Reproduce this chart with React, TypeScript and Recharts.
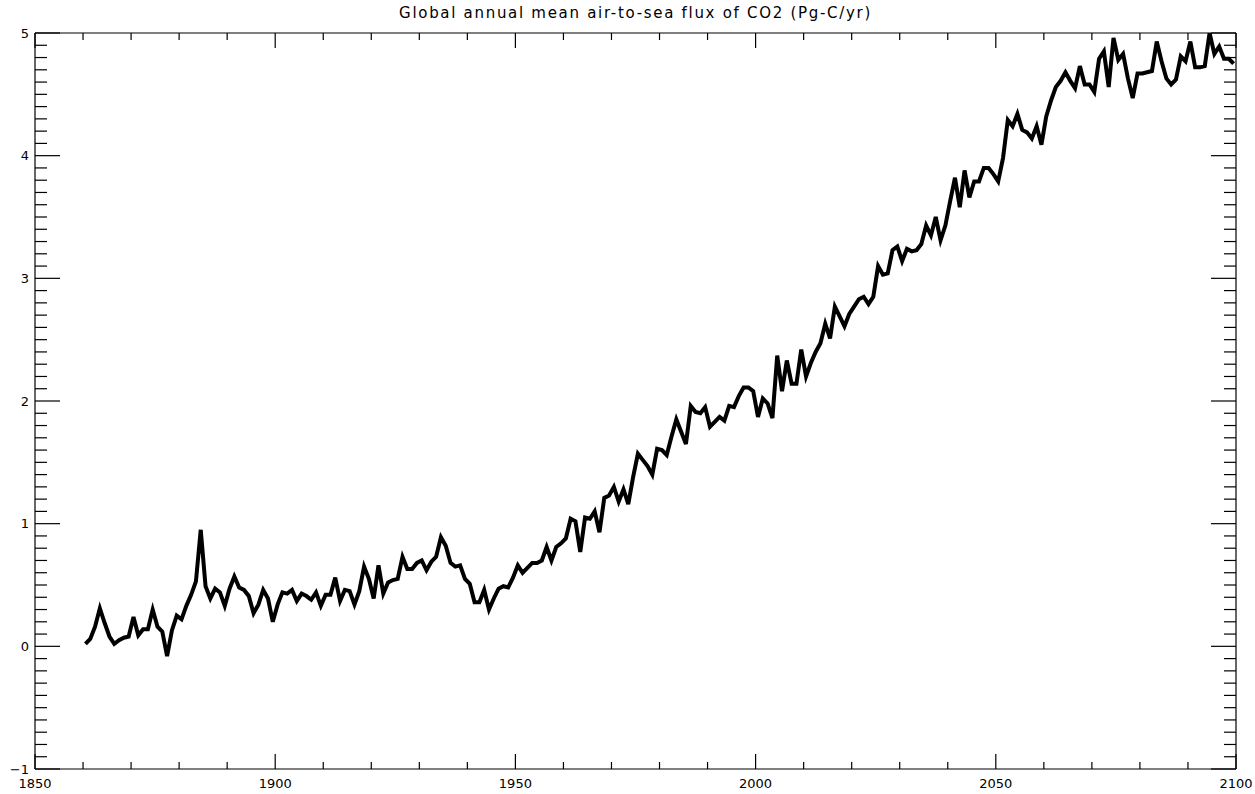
import React from 'react';
import { LineChart, Line, XAxis, YAxis, ReferenceLine } from 'recharts';

// global annual mean air-to-sea CO2 flux, Pg-C/yr, one value per year from 1860
const START_YEAR = 1860;
const flux1860s = [0.02, 0.06, 0.16, 0.31, 0.19, 0.08, 0.02, 0.05, 0.07, 0.08];
const flux1870s = [0.24, 0.09, 0.14, 0.14, 0.30, 0.16, 0.12, -0.08, 0.13, 0.25];
const flux1880s = [0.22, 0.33, 0.42, 0.53, 0.95, 0.49, 0.39, 0.47, 0.44, 0.33];
const flux1890s = [0.47, 0.57, 0.48, 0.46, 0.41, 0.27, 0.34, 0.46, 0.39, 0.20];
const flux1900s = [0.34, 0.44, 0.43, 0.46, 0.37, 0.43, 0.41, 0.38, 0.44, 0.33];
const flux1910s = [0.42, 0.42, 0.56, 0.37, 0.46, 0.45, 0.34, 0.45, 0.65, 0.55];
const flux1920s = [0.39, 0.66, 0.43, 0.52, 0.54, 0.55, 0.73, 0.63, 0.63, 0.68];
const flux1930s = [0.70, 0.62, 0.69, 0.73, 0.89, 0.82, 0.68, 0.65, 0.66, 0.55];
const flux1940s = [0.51, 0.36, 0.36, 0.46, 0.30, 0.39, 0.47, 0.49, 0.48, 0.56];
const flux1950s = [0.66, 0.60, 0.64, 0.68, 0.68, 0.70, 0.81, 0.70, 0.81, 0.84];
const flux1960s = [0.88, 1.04, 1.02, 0.77, 1.05, 1.04, 1.10, 0.93, 1.21, 1.23];
const flux1970s = [1.30, 1.18, 1.28, 1.16, 1.38, 1.57, 1.52, 1.47, 1.40, 1.61];
const flux1980s = [1.60, 1.56, 1.71, 1.85, 1.75, 1.65, 1.96, 1.91, 1.90, 1.95];
const flux1990s = [1.79, 1.83, 1.87, 1.84, 1.96, 1.95, 2.04, 2.11, 2.11, 2.08];
const flux2000s = [1.87, 2.02, 1.98, 1.86, 2.37, 2.08, 2.33, 2.14, 2.14, 2.42];
const flux2010s = [2.20, 2.31, 2.40, 2.47, 2.63, 2.51, 2.77, 2.69, 2.61, 2.71];
const flux2020s = [2.77, 2.83, 2.85, 2.79, 2.85, 3.10, 3.03, 3.04, 3.23, 3.26];
const flux2030s = [3.14, 3.24, 3.22, 3.23, 3.28, 3.43, 3.35, 3.50, 3.31, 3.43];
const flux2040s = [3.63, 3.82, 3.58, 3.88, 3.66, 3.79, 3.79, 3.90, 3.90, 3.85];
const flux2050s = [3.79, 3.98, 4.29, 4.24, 4.34, 4.21, 4.19, 4.14, 4.24, 4.09];
const flux2060s = [4.32, 4.45, 4.56, 4.61, 4.68, 4.61, 4.55, 4.73, 4.58, 4.58];
const flux2070s = [4.52, 4.79, 4.85, 4.56, 4.96, 4.78, 4.83, 4.63, 4.47, 4.67];
const flux2080s = [4.67, 4.68, 4.69, 4.93, 4.77, 4.63, 4.58, 4.62, 4.81, 4.77];
const flux2090s = [4.93, 4.72, 4.72, 4.73, 5.00, 4.83, 4.89, 4.79, 4.79, 4.75];

const flux = [
  ...flux1860s, ...flux1870s, ...flux1880s, ...flux1890s, ...flux1900s, ...flux1910s,
  ...flux1920s, ...flux1930s, ...flux1940s, ...flux1950s, ...flux1960s, ...flux1970s,
  ...flux1980s, ...flux1990s, ...flux2000s, ...flux2010s, ...flux2020s, ...flux2030s,
  ...flux2040s, ...flux2050s, ...flux2060s, ...flux2070s, ...flux2080s, ...flux2090s,
];

// annual means sit at mid-year
const data = flux.map((v, i) => ({ year: START_YEAR + i + 0.5, flux: v }));

const X_MIN = 1850;
const X_MAX = 2100;
const Y_MIN = -1;
const Y_MAX = 5;
const X_LABEL_TICKS = [1850, 1900, 1950, 2000, 2050, 2100];
const X_MINOR_TICKS = Array.from({ length: 26 }, (_, i) => 1850 + i * 10);
const Y_LABEL_TICKS = [-1, 0, 1, 2, 3, 4, 5];
const Y_MINOR_TICKS = Array.from({ length: 61 }, (_, i) => Math.round(-10 + i) / 10);

const TITLE = 'Global annual mean air-to-sea flux of CO2 (Pg-C/yr)';

// IDL-style inward tick lengths, in data units (px / px-per-unit)
const X_TICK_MINOR = 7 / 122.7;
const X_TICK_MAJOR = 15 / 122.7;
const Y_TICK_MINOR = 12 / 4.804;
const Y_TICK_MAJOR = 25 / 4.804;

const FONT = 'DejaVu Sans, sans-serif';
const labelStyle = { fontFamily: FONT, fontSize: 13, fill: '#000' };
const frame = { stroke: '#000', strokeWidth: 1.2 };

const fmtY = (v: number) => (v < 0 ? `\u2212${Math.abs(v)}` : `${v}`);

const isMajorX = (t: number) => t % 50 === 0;
const isMajorY = (t: number) => Math.abs(t - Math.round(t)) < 1e-6;

export default function App() {
  const tickLine = (key: string, segment: { x: number; y: number }[]) => (
    <ReferenceLine
      key={key}
      xAxisId="b"
      yAxisId="l"
      segment={segment}
      stroke="#000"
      strokeWidth={1.2}
      ifOverflow="visible"
    />
  );

  return (
    <div style={{ position: 'absolute', left: 0, top: 0, width: 1255, height: 794, background: '#fff' }}>
      <div
        style={{
          position: 'absolute',
          left: 35,
          width: 1201,
          top: 5,
          textAlign: 'center',
          fontFamily: FONT,
          fontSize: 15,
          lineHeight: '16px',
          letterSpacing: 1.7,
          color: '#000',
        }}
      >
        {TITLE}
      </div>
      <LineChart width={1255} height={794} data={data} margin={{ top: 33, right: 19, bottom: 0, left: 0 }}>
        <XAxis
          xAxisId="b"
          type="number"
          dataKey="year"
          domain={[X_MIN, X_MAX]}
          ticks={X_LABEL_TICKS}
          height={25}
          tickLine={false}
          tickSize={6}
          tickMargin={4}
          axisLine={frame}
          tick={labelStyle}
          allowDataOverflow
        />
        <YAxis
          yAxisId="l"
          type="number"
          domain={[Y_MIN, Y_MAX]}
          ticks={Y_LABEL_TICKS}
          width={35}
          tickLine={false}
          tickSize={2}
          tickMargin={4}
          axisLine={frame}
          tick={labelStyle}
          tickFormatter={fmtY}
          allowDataOverflow
        />
        {/* top and right frame */}
        <ReferenceLine xAxisId="b" yAxisId="l" y={Y_MAX} stroke="#000" strokeWidth={1.2} ifOverflow="visible" />
        <ReferenceLine xAxisId="b" yAxisId="l" x={X_MAX} stroke="#000" strokeWidth={1.2} ifOverflow="visible" />
        {/* inward ticks on bottom and top */}
        {X_MINOR_TICKS.map((t) => {
          const len = isMajorX(t) ? X_TICK_MAJOR : X_TICK_MINOR;
          return [
            tickLine(`xb${t}`, [{ x: t, y: Y_MIN }, { x: t, y: Y_MIN + len }]),
            tickLine(`xt${t}`, [{ x: t, y: Y_MAX }, { x: t, y: Y_MAX - len }]),
          ];
        })}
        {/* inward ticks on left and right */}
        {Y_MINOR_TICKS.map((t) => {
          const len = isMajorY(t) ? Y_TICK_MAJOR : Y_TICK_MINOR;
          return [
            tickLine(`yl${t}`, [{ x: X_MIN, y: t }, { x: X_MIN + len, y: t }]),
            tickLine(`yr${t}`, [{ x: X_MAX, y: t }, { x: X_MAX - len, y: t }]),
          ];
        })}
        <Line
          xAxisId="b"
          yAxisId="l"
          type="linear"
          dataKey="flux"
          stroke="#000"
          strokeWidth={4}
          strokeLinejoin="miter"
          dot={false}
          activeDot={false}
          isAnimationActive={false}
        />
      </LineChart>
    </div>
  );
}
